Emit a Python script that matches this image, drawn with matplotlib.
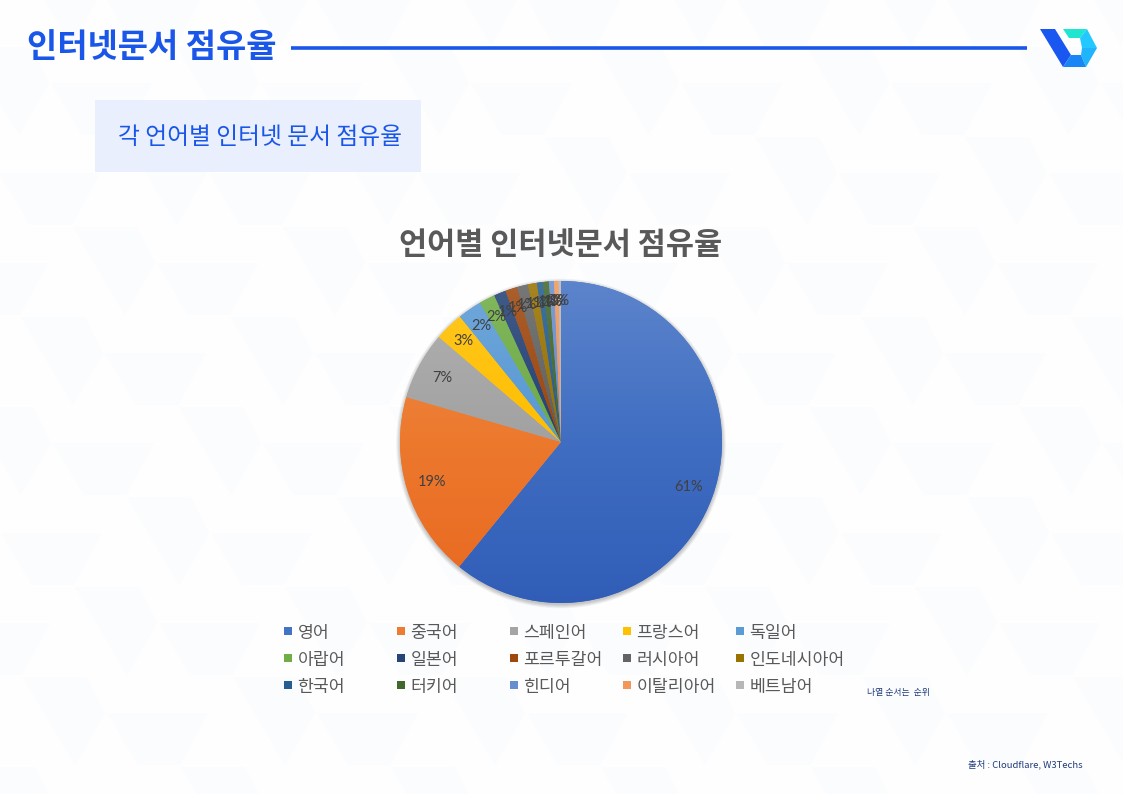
import numpy as np
import matplotlib
matplotlib.use("Agg")
import matplotlib.pyplot as plt
from matplotlib.colors import LinearSegmentedColormap, to_rgb
from matplotlib.patches import Circle, Polygon, Rectangle

plt.rcParams['font.family'] = ['Noto Sans CJK KR', 'DejaVu Sans']

languages = ['영어', '중국어', '스페인어', '프랑스어', '독일어',
             '아랍어', '일본어', '포르투갈어', '러시아어', '인도네시아어',
             '한국어', '터키어', '힌디어', '이탈리아어', '베트남어']
# shares, the small ones are estimates
shares = [60.9, 18.6, 6.8, 2.9, 2.4, 1.6, 1.2, 1.2, 1.1, 0.9, 0.6, 0.6, 0.5, 0.45, 0.25]
slice_colors = ['#4472c4', '#ed7d31', '#a5a5a5', '#ffc000', '#5b9bd5',
                '#70ad47', '#264478', '#9e480e', '#636363', '#997300',
                '#255e91', '#43682b', '#698ed0', '#f1975a', '#b7b7b7']

BLUE = '#1a56e8'
W, H = 1123, 794


def px_axes(fig, left, top, width, height):
    return fig.add_axes([left / W, 1 - (top + height) / H, width / W, height / H])


def slice_cmap(color):
    # lighter at the top, deeper and a bit more saturated at the bottom
    c = np.array(to_rgb(color))
    top = c + (1 - c) * 0.13
    return LinearSegmentedColormap.from_list('g', [c ** 1.25, c ** 1.05, top])


fig = plt.figure(figsize=(W / 100, H / 100), dpi=100, facecolor='#fefeff')
bg = fig.add_axes([0, 0, 1, 1])
bg.set_xlim(0, W)
bg.set_ylim(H, 0)
bg.axis('off')

# pale tiled pattern behind everything
chevron = np.array([(73, 227), (137, 227), (155, 263), (125, 315)], dtype=float)
trapezoid = np.array([(157, 263), (258, 263), (230, 315), (188, 315)], dtype=float)
for j in range(-4, 8):
    for i in range(-3, 9):
        shift = np.array([210 * i - 52 * j, 90 * j])
        for shape in (chevron, trapezoid):
            bg.add_patch(Polygon(shape + shift, fc='#fbfcfe', ec='none', zorder=0))

bg.text(27, 48, '인터넷문서 점유율', color=BLUE, fontsize=23.7, fontweight='bold', va='center', ha='left')
bg.plot([291, 1027], [47.5, 47.5], color=BLUE, lw=2.6, solid_capstyle='butt')

# logo
bg.add_patch(Polygon([(1040, 29), (1055, 29), (1071, 55), (1063, 67)], fc='#1a56f0', ec='none'))
bg.add_patch(Polygon([(1063, 29), (1087, 29), (1080, 38), (1069, 38)], fc='#1fe6d0', ec='none'))
bg.add_patch(Polygon([(1087, 29), (1097, 48), (1082, 48), (1080, 38)], fc='#22c8ff', ec='none'))
bg.add_patch(Polygon([(1097, 48), (1086, 67), (1081, 55), (1082, 48)], fc='#1fb4fb', ec='none'))
bg.add_patch(Polygon([(1063, 67), (1071, 55), (1081, 55), (1086, 67)], fc='#1a86f5', ec='none'))

bg.add_patch(Rectangle((95, 100), 326, 72, fc='#e9effc', ec='none'))
bg.text(118, 138, '각 언어별 인터넷 문서 점유율', color=BLUE, fontsize=17.1, va='center', ha='left')

bg.text(561, 245, '언어별 인터넷문서 점유율', color='#595959', fontsize=22, fontweight='bold', va='center', ha='center')

# soft shadow round the pie
for i in range(10):
    bg.add_patch(Circle((561, 443.5), 165 - i * 0.45, fc='#000000', ec='none', alpha=0.022, zorder=1))

# pie
ax = px_axes(fig, 561 - 161, 442 - 161, 322, 322)
ax.set_zorder(2)
ax.patch.set_alpha(0)
wedges, _, pcts = ax.pie(shares, colors=slice_colors, startangle=90, counterclock=False,
                         radius=1, autopct='%.0f%%', pctdistance=0.84,
                         textprops={'fontsize': 10.5, 'color': '#404040', 'family': 'Lato'},
                         wedgeprops={'lw': 0})

# vertical gradient on every slice
for w, c in zip(wedges, slice_colors):
    im = ax.imshow(np.linspace(0, 1, 256).reshape(-1, 1), cmap=slice_cmap(c), extent=(-1, 1, -1, 1),
                   origin='lower', aspect='auto', zorder=1)
    im.set_clip_path(w)
for t, s in zip(pcts, shares):
    t.set_zorder(5)
    # narrow slices carry their label a little further out
    if s < 5:
        x, y = t.get_position()
        t.set_position((x * 1.04, y * 1.04))
ax.set_xlim(-1, 1)
ax.set_ylim(-1, 1)
ax.set_aspect('equal')
ax.axis('off')

# legend, 5 columns and 3 rows
col_x = [284, 397, 510, 623, 736]
row_y = [633, 660, 687]
for i, (name, c) in enumerate(zip(languages, slice_colors)):
    x = col_x[i % 5]
    y = row_y[i // 5]
    bg.add_patch(Rectangle((x, y - 6), 8, 8, fc=c, ec='none'))
    bg.text(x + 13.5, y, name, color='#595959', fontsize=12.4, va='center', ha='left')

bg.text(867, 693, '나열 순서는  순위', color='#1f3a7a', fontsize=6.4, va='center', ha='left')
bg.text(968, 764, '출처 : Cloudflare, W3Techs', color='#1f3a7a', fontsize=6.8, va='center', ha='left')

fig.savefig('out.png', dpi=100, facecolor=fig.get_facecolor())
